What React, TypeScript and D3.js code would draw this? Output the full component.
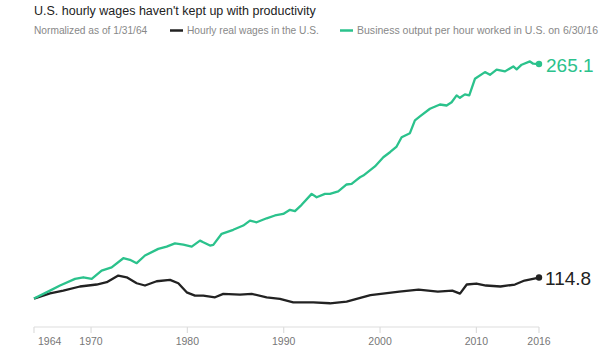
import React from "react";
import * as d3 from "d3";

const wageYears = [1964.08, 1965.74, 1967.12, 1968.85, 1970.59, 1971.63, 1972.83, 1973.7, 1974.74, 1975.6, 1976.81, 1978.2, 1979.06, 1979.93, 1980.79, 1981.65, 1982.87, 1983.73, 1985.46, 1986.68, 1988.23, 1989.61, 1990.99, 1993.07, 1994.8, 1996.53, 1997.57, 1999.0, 2000.3, 2002.0, 2004.0, 2006.0, 2007.5, 2008.3, 2009.0, 2010.0, 2011.0, 2012.5, 2014.0, 2015.0, 2016.5];
const wageValues = [100, 103.7, 105.6, 108.5, 109.9, 111.5, 116.2, 115.0, 110.8, 109.2, 112.2, 113.2, 110.8, 104.4, 102.1, 102.1, 100.9, 103.3, 102.8, 103.3, 100.9, 99.8, 97.4, 97.4, 96.7, 97.9, 99.8, 102.5, 103.5, 104.9, 106.3, 104.9, 105.6, 103.5, 109.9, 110.6, 109.2, 108.5, 109.9, 112.7, 114.8];

const outputYears = [1964.08, 1965.74, 1966.78, 1968.34, 1969.2, 1970.07, 1971.1, 1972.14, 1973.35, 1974.04, 1974.74, 1975.6, 1976.98, 1977.85, 1978.71, 1979.58, 1980.45, 1981.31, 1981.65, 1982.35, 1982.69, 1983.56, 1984.76, 1985.8, 1986.5, 1987.19, 1988.23, 1989.09, 1989.95, 1990.65, 1991.17, 1991.86, 1992.9, 1993.42, 1994.28, 1994.8, 1995.66, 1996.53, 1997.05, 1997.57, 1997.92, 1998.26, 1999.47, 2000.34, 2001.03, 2001.72, 2002.24, 2003.1, 2003.62, 2004.14, 2005.18, 2006.22, 2006.91, 2007.43, 2007.95, 2008.29, 2008.81, 2009.26, 2009.85, 2010.89, 2011.41, 2012.1, 2012.97, 2013.83, 2014.18, 2014.7, 2015.56, 2015.9, 2016.5];
const outputValues = [100, 105.6, 109.2, 113.9, 115.0, 113.9, 119.7, 122.0, 128.4, 127.3, 124.9, 130.3, 135.0, 136.6, 138.9, 138.0, 136.6, 140.8, 139.6, 137.3, 137.8, 145.6, 148.4, 151.4, 154.9, 153.7, 156.5, 158.5, 159.6, 162.5, 161.5, 166.0, 173.7, 171.3, 173.7, 173.7, 175.4, 180.3, 180.8, 183.6, 185.4, 186.6, 193.0, 199.5, 203.0, 207.0, 213.6, 216.4, 225.4, 228.2, 233.6, 236.6, 235.9, 238.2, 243.0, 241.3, 243.7, 243.0, 254.7, 259.4, 257.5, 261.1, 259.9, 263.4, 261.3, 264.6, 266.9, 265.3, 265.1];

const tickYears = [1964.08, 1970, 1980, 1990, 2000, 2010, 2016.5];
const tickLabels = ["1964", "1970", "1980", "1990", "2000", "2010", "2016"];

const GREEN = "#2bc28c";
const BLACK = "#222222";
const FONT = "'Liberation Sans', Arial, sans-serif";

export default function App() {
  const x = d3.scaleLinear().domain([1964.08, 2016.5]).range([34, 539]);
  const y = d3.scaleLinear().domain([80, 265.1]).range([327, 64]);

  const wages = wageYears.map((t, i) => [t, wageValues[i]] as [number, number]);
  const output = outputYears.map((t, i) => [t, outputValues[i]] as [number, number]);
  const line = d3.line<[number, number]>().x((d) => x(d[0])).y((d) => y(d[1]));

  const lastW = wages[wages.length - 1];
  const lastO = output[output.length - 1];

  return (
    <svg width={616} height={346} style={{ position: "absolute", left: 0, top: 0, background: "#fff" }} fontFamily={FONT}>
      <text x={34} y={15} fontSize={12.5} fill="#222">U.S. hourly wages haven't kept up with productivity</text>
      <text x={34} y={34} fontSize={10.2} fill="#888">Normalized as of 1/31/64</text>
      <line x1={170} x2={183} y1={30.5} y2={30.5} stroke={BLACK} strokeWidth={2.5} />
      <text x={187} y={34} fontSize={10.2} fill="#888">Hourly real wages in the U.S.</text>
      <line x1={340} x2={353} y1={30.5} y2={30.5} stroke={GREEN} strokeWidth={2.5} />
      <text x={357} y={34} fontSize={10.2} fill="#888" textLength={241} lengthAdjust="spacingAndGlyphs">Business output per hour worked in U.S. on 6/30/16</text>

      <line x1={x(1964.08)} x2={x(2016.5)} y1={327} y2={327} stroke="#dddddd" strokeWidth={1.2} />
      {tickYears.map((t, i) => (
        <g key={i}>
          <line x1={x(t)} x2={x(t)} y1={327} y2={333} stroke="#dddddd" strokeWidth={1.2} />
          <text x={i === 0 ? x(t) + 4 : x(t)} y={345} fontSize={10.5} fill="#777" textAnchor={i === 0 ? "start" : "middle"}>{tickLabels[i]}</text>
        </g>
      ))}

      <path d={line(wages) || ""} fill="none" stroke={BLACK} strokeWidth={2.3} strokeLinejoin="round" />
      <path d={line(output) || ""} fill="none" stroke={GREEN} strokeWidth={2.3} strokeLinejoin="round" />

      <circle cx={x(lastO[0])} cy={y(lastO[1])} r={3.2} fill={GREEN} />
      <circle cx={x(lastW[0])} cy={y(lastW[1])} r={3.2} fill={BLACK} />
      <text x={546} y={y(lastO[1]) + 7.5} fontSize={19} fill={GREEN}>{lastO[1].toFixed(1)}</text>
      <text x={545} y={y(lastW[1]) + 7.5} fontSize={19} fill={BLACK}>{lastW[1].toFixed(1)}</text>
    </svg>
  );
}
